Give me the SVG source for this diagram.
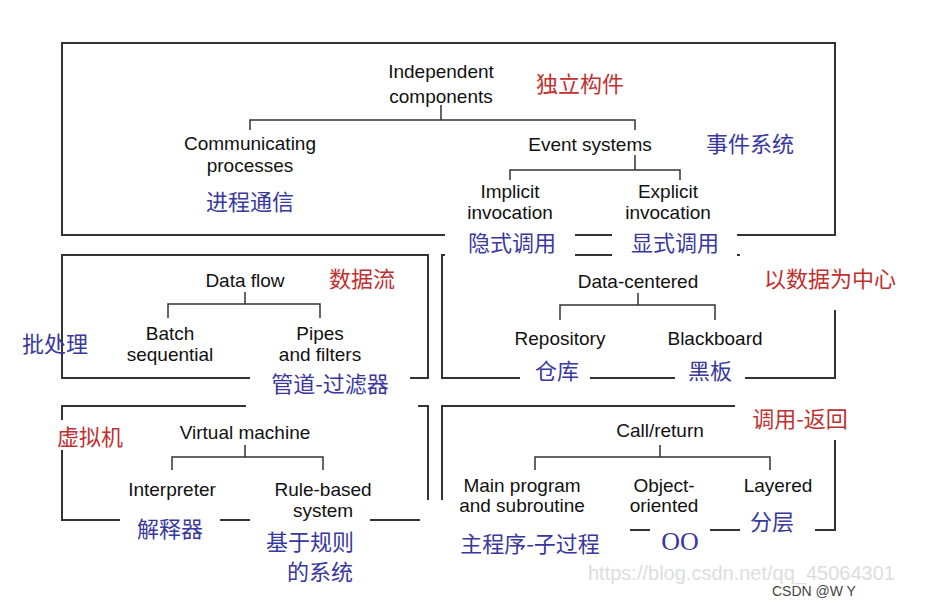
<svg xmlns="http://www.w3.org/2000/svg" width="927" height="603" viewBox="0 0 927 603">
<style>
.box{fill:none;stroke:#333;stroke-width:2}
.ln{fill:none;stroke:#333;stroke-width:1.5}
.t{font-family:"Liberation Sans",Arial,sans-serif;font-size:19px;fill:#111;text-anchor:middle}
.r{font-family:"Noto Sans CJK SC",sans-serif;font-size:22px;fill:#c03030;text-anchor:middle}
.b{font-family:"Noto Sans CJK SC",sans-serif;font-size:22px;fill:#3838a0;text-anchor:middle}
.bg{fill:#fff}
</style>
<rect width="927" height="603" fill="#fff"/>
<g id="frames">
<rect class="box" x="62" y="43" width="773" height="192"/>
<rect class="box" x="62" y="255" width="366" height="123"/>
<rect class="box" x="442" y="255" width="393" height="123"/>
<rect class="box" x="62" y="406" width="366" height="114"/>
<rect class="box" x="442" y="406" width="393" height="124"/>
<rect class="bg" x="445" y="226" width="130" height="34"/>
<rect class="bg" x="583" y="226" width="25" height="3"/><rect class="bg" x="583" y="242" width="25" height="3"/>
<rect class="bg" x="612" y="226" width="125" height="34"/>
<rect class="bg" x="740" y="250" width="100" height="60"/>
<rect class="bg" x="250" y="370" width="160" height="30"/>
<rect class="bg" x="520" y="365" width="70" height="20"/>
<rect class="bg" x="675" y="365" width="70" height="20"/>
<rect class="bg" x="246" y="400" width="172" height="12"/>
<rect class="bg" x="55" y="420" width="80" height="30"/>
<rect class="bg" x="120" y="515" width="100" height="12"/>
<rect class="bg" x="250" y="515" width="120" height="12"/>
<rect class="bg" x="420" y="500" width="25" height="40"/>
<rect class="bg" x="430" y="525" width="200" height="12"/>
<rect class="bg" x="650" y="525" width="60" height="12"/>
<rect class="bg" x="735" y="400" width="105" height="40"/>
<rect class="bg" x="740" y="510" width="75" height="25"/>
</g>
<g id="connectors">
<path class="ln" d="M441 105V120M250 130V120H635V130"/>
<path class="ln" d="M635 155V170M510 180V170H680V180"/>
<path class="ln" d="M245 292V304M168 318V304H320V318"/>
<path class="ln" d="M638 293V305M560 320V305H715V320"/>
<path class="ln" d="M245 445V457M172 470V457H323V470"/>
<path class="ln" d="M660 445V457M535 470V457H770V470"/>
</g>
<g id="independent"><text class="t" x="441" y="78">Independent</text><text class="t" x="441" y="103">components</text><text class="r" x="580" y="92">独立构件</text></g>
<g id="communicating"><text class="t" x="250" y="150">Communicating</text><text class="t" x="250" y="172">processes</text><text class="b" x="250" y="210">进程通信</text></g>
<g id="event"><text class="t" x="590" y="151">Event systems</text><text class="b" x="750" y="152">事件系统</text></g>
<g id="implicit"><text class="t" x="510" y="198">Implicit</text><text class="t" x="510" y="219">invocation</text><text class="b" x="512" y="251">隐式调用</text></g>
<g id="explicit"><text class="t" x="668" y="198">Explicit</text><text class="t" x="668" y="219">invocation</text><text class="b" x="675" y="251">显式调用</text></g>
<g id="dataflow"><text class="t" x="245" y="287">Data flow</text><text class="r" x="362" y="287">数据流</text></g>
<g id="batch"><text class="t" x="170" y="340">Batch</text><text class="t" x="170" y="361">sequential</text><text class="b" x="55" y="352">批处理</text></g>
<g id="pipes"><text class="t" x="320" y="340">Pipes</text><text class="t" x="320" y="361">and filters</text><text class="b" x="330" y="392">管道-过滤器</text></g>
<g id="datacentered"><text class="t" x="638" y="288">Data-centered</text><text class="r" x="830" y="287">以数据为中心</text></g>
<g id="repository"><text class="t" x="560" y="345">Repository</text><text class="b" x="557" y="379">仓库</text></g>
<g id="blackboard"><text class="t" x="715" y="345">Blackboard</text><text class="b" x="710" y="379">黑板</text></g>
<g id="vm"><text class="t" x="245" y="439">Virtual machine</text><text class="r" x="90" y="445">虚拟机</text></g>
<g id="interpreter"><text class="t" x="172" y="496">Interpreter</text><text class="b" x="170" y="537">解释器</text></g>
<g id="rulebased"><text class="t" x="323" y="496">Rule-based</text><text class="t" x="323" y="517">system</text><text class="b" x="310" y="550">基于规则</text><text class="b" x="320" y="580">的系统</text></g>
<g id="callreturn"><text class="t" x="660" y="437">Call/return</text><text class="r" x="800" y="427">调用-返回</text></g>
<g id="mainprog"><text class="t" x="522" y="492">Main program</text><text class="t" x="522" y="512">and subroutine</text><text class="b" x="530" y="552">主程序-子过程</text></g>
<g id="oo"><text class="t" x="664" y="492">Object-</text><text class="t" x="664" y="512">oriented</text><text x="680" y="550" font-family="Liberation Serif,serif" font-size="26" fill="#3838a0" text-anchor="middle">OO</text></g>
<g id="layered"><text class="t" x="778" y="492">Layered</text><text class="b" x="772" y="530">分层</text></g>
<text x="588" y="580" font-family="Liberation Sans,sans-serif" font-size="20" fill="#ddd">https://blog.csdn.net/qq_45064301</text>
<text x="772" y="596" font-family="Liberation Sans,sans-serif" font-size="14" fill="#444">CSDN @W          Y</text>
</svg>
